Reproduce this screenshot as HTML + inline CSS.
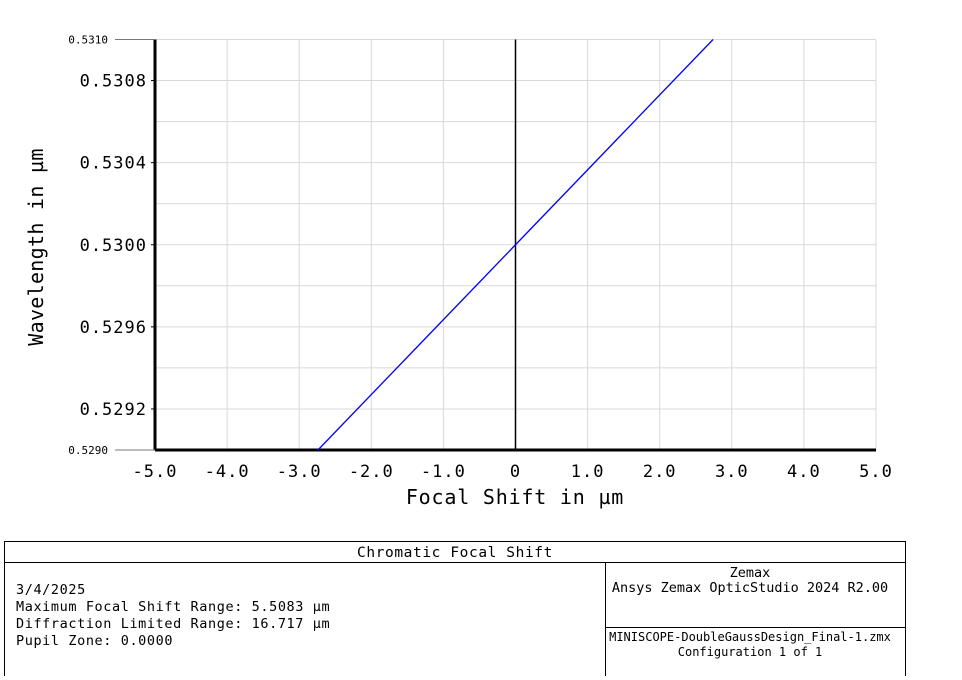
<!DOCTYPE html>
<html><head><meta charset="utf-8"><style>
body{margin:0;background:#fff;width:962px;height:676px;overflow:hidden;font-family:"DejaVu Sans Mono","Liberation Mono",monospace;}
svg text{font-family:"DejaVu Sans Mono","Liberation Mono",monospace;}
</style></head><body>
<svg id="chart" width="962" height="676" xmlns="http://www.w3.org/2000/svg">
<g id="grid"></g>
<g id="axes"></g>
<g id="series"></g>
<text x="515" y="504" font-size="20" letter-spacing="0.8" text-anchor="middle">Focal Shift in µm</text>
<text transform="translate(43,247) rotate(-90)" font-size="20" letter-spacing="0.3" text-anchor="middle">Wavelength in µm</text>
<g font-size="13.5" letter-spacing="0.6">
<rect x="4.5" y="541.5" width="901" height="140" fill="none" stroke="#000"/>
<line x1="4.5" y1="562.5" x2="905.5" y2="562.5" stroke="#000"/>
<line x1="605.5" y1="562.5" x2="605.5" y2="676" stroke="#000"/>
<line x1="605.5" y1="627.5" x2="905.5" y2="627.5" stroke="#000"/>
<text x="455" y="557" text-anchor="middle" font-size="14.5">Chromatic Focal Shift</text>
<text x="16" y="594">3/4/2025</text>
<text x="16" y="611">Maximum Focal Shift Range: 5.5083 µm</text>
<text x="16" y="628">Diffraction Limited Range: 16.717 µm</text>
<text x="16" y="645">Pupil Zone: 0.0000</text>
<text x="750" y="577" text-anchor="middle" letter-spacing="0">Zemax</text>
<text x="750" y="592" text-anchor="middle" letter-spacing="0">Ansys Zemax OpticStudio 2024 R2.00</text>
<text x="750" y="641" text-anchor="middle" font-size="12" letter-spacing="0">MINISCOPE-DoubleGaussDesign_Final-1.zmx</text>
<text x="750" y="656" text-anchor="middle" font-size="12" letter-spacing="0">Configuration 1 of 1</text>
</g>
</svg>
<script>
const xTicks=[-5,-4,-3,-2,-1,0,1,2,3,4,5];
const xTickLabels=["-5.0","-4.0","-3.0","-2.0","-1.0","0","1.0","2.0","3.0","4.0","5.0"];
const yTicks=[0.5292,0.5296,0.5300,0.5304,0.5308];
const yTickLabels=["0.5292","0.5296","0.5300","0.5304","0.5308"];
const yGrid=[0.5290,0.5292,0.5294,0.5296,0.5298,0.5300,0.5302,0.5304,0.5306,0.5308,0.5310];
const wavelengths=[0.5290,0.5295,0.5300,0.5305,0.5310];
const focalShifts=[-2.74,-1.37,0.0,1.37,2.74];
const X0=155,X1=876,Y0=450,Y1=39.5;
const NS="http://www.w3.org/2000/svg";
function sx(v){return X0+(v+5)/10*(X1-X0);}
function sy(v){return Y0-(v-0.5290)/0.0020*(Y0-Y1);}
function mk(tag,attrs,parent){const e=document.createElementNS(NS,tag);for(const k in attrs)e.setAttribute(k,attrs[k]);parent.appendChild(e);return e;}
const grid=document.getElementById('grid'),axes=document.getElementById('axes'),series=document.getElementById('series');
xTicks.forEach(v=>{const l=mk('line',{x1:sx(v),x2:sx(v),y1:Y1,y2:Y0,stroke:'#d8d8d8'},grid);

});
yGrid.forEach(v=>{const l=mk('line',{x1:X0,x2:X1,y1:sy(v),y2:sy(v),stroke:'#d8d8d8'},grid);

});
mk('line',{x1:X0,x2:X0,y1:Y1,y2:Y0,stroke:'#000','stroke-width':3},axes);
mk('line',{x1:X0,x2:X1,y1:Y0,y2:Y0,stroke:'#000','stroke-width':3},axes);
mk('line',{x1:sx(0),x2:sx(0),y1:Y1,y2:Y0,stroke:'#000','stroke-width':1.5},axes);
mk('line',{x1:115,x2:X0,y1:Y1,y2:Y1,stroke:'#777'},axes);
mk('line',{x1:115,x2:X0,y1:Y0,y2:Y0,stroke:'#777'},axes);
const t1=mk('text',{x:108,y:Y1+4,'font-size':11,'text-anchor':'end'},axes);t1.textContent='0.5310';


const t2=mk('text',{x:108,y:Y0+4,'font-size':11,'text-anchor':'end'},axes);t2.textContent='0.5290';


xTicks.forEach((v,i)=>{const t=mk('text',{x:sx(v),y:477,'font-size':17,'letter-spacing':1,'text-anchor':'middle'},axes);t.textContent=xTickLabels[i];

});
yTicks.forEach((v,i)=>{mk('line',{x1:X0-4,x2:X0,y1:sy(v),y2:sy(v),stroke:'#000'},axes);
const t=mk('text',{x:147,y:sy(v)+6,'font-size':17,'letter-spacing':1,'text-anchor':'end'},axes);t.textContent=yTickLabels[i];

});
const pts=wavelengths.map((w,i)=>sx(focalShifts[i])+','+sy(w)).join(' ');
const pl=mk('polyline',{points:pts,fill:'none',stroke:'#0000ff','stroke-width':1.3},series);


</script>
</body></html>
